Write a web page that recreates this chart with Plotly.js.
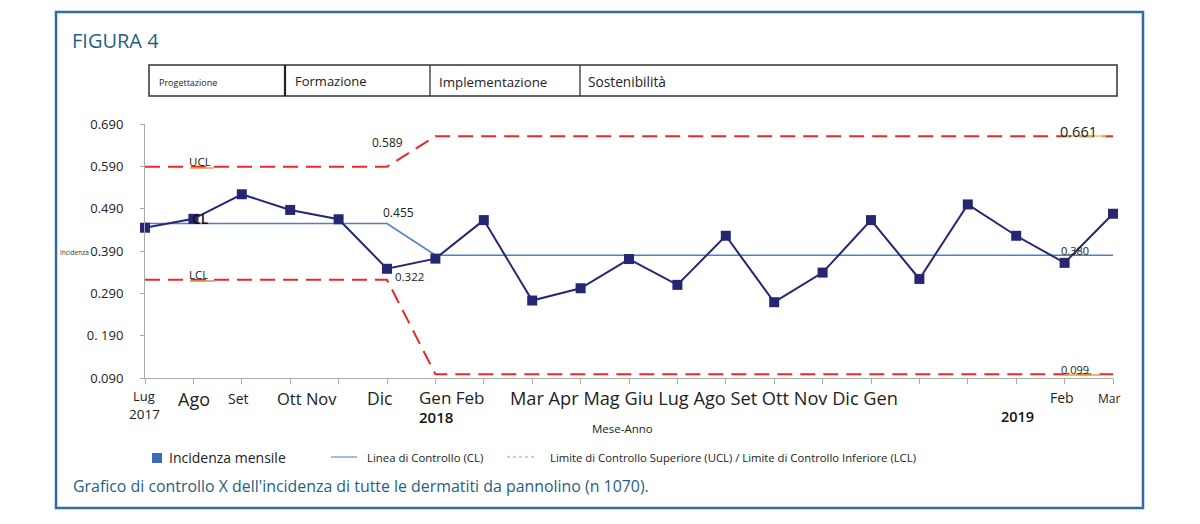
<!DOCTYPE html>
<html>
<head>
<meta charset="utf-8">
<script src="https://cdn.plot.ly/plotly-3.0.1.min.js"></script>
<style>html,body{margin:0;padding:0;background:#fff;}#chart{width:1200px;height:524px;}</style>
</head>
<body>
<div id="chart"></div>
<script>
// ---- data ----
const months = ["Lug 2017","Ago","Set","Ott","Nov","Dic","Gen 2018","Feb","Mar","Apr","Mag","Giu","Lug","Ago","Set","Ott","Nov","Dic","Gen 2019","Feb","Mar"];
const incidenza = [0.445,0.466,0.524,0.487,0.465,0.348,0.372,0.463,0.273,0.302,0.371,0.310,0.426,0.269,0.339,0.463,0.324,0.500,0.426,0.362,0.478];
const clValues  = [0.455,0.455,0.455,0.455,0.455,0.455,0.380,0.380,0.380,0.380,0.380,0.380,0.380,0.380,0.380,0.380,0.380,0.380,0.380,0.380,0.380];
const uclValues = [0.589,0.589,0.589,0.589,0.589,0.589,0.661,0.661,0.661,0.661,0.661,0.661,0.661,0.661,0.661,0.661,0.661,0.661,0.661,0.661,0.661];
const lclValues = [0.322,0.322,0.322,0.322,0.322,0.322,0.099,0.099,0.099,0.099,0.099,0.099,0.099,0.099,0.099,0.099,0.099,0.099,0.099,0.099,0.099];
const yTickVals = [0.090,0.190,0.290,0.390,0.490,0.590,0.690];
const yTickText = ["0.090","0. 190","0.290","0.390","0.490","0.590","0.690"];
const phases = ["Progettazione","Formazione","Implementazione","Sostenibilità"];
const xLabelGroups = ["Lug","Ago","Set","Ott Nov","Dic","Gen Feb","Mar Apr Mag Giu Lug Ago Set Ott Nov Dic Gen","Feb","Mar"];
const yearLabels = ["2017","2018","2019"];

// ---- layout helpers (pixel -> paper) ----
const L = 145, R = 1113, T = 124, B = 378;
const PX = x => (x - L) / (R - L);
const PY = y => (B - y) / (B - T);
const xs = months.map((_, i) => i);

const FONT = "Open Sans, Noto Sans, sans-serif";
const teal = "#1F5F85";

const traces = [
  {x: xs, y: uclValues, mode: "lines", line: {color: "#E8282B", width: 2, dash: "15px,8px"}, hoverinfo: "skip", cliponaxis: false},
  {x: xs, y: lclValues, mode: "lines", line: {color: "#E8282B", width: 2, dash: "15px,8px"}, hoverinfo: "skip", cliponaxis: false},
  {x: xs, y: clValues, mode: "lines", line: {color: "#4F7FC6", width: 1.6}, hoverinfo: "skip", cliponaxis: false},
  {x: xs, y: incidenza, mode: "lines+markers", line: {color: "#262673", width: 2},
   marker: {symbol: "square", size: 10, color: "#262673"}, cliponaxis: false, text: months}
];

function ann(text, x, y, size, opts) {
  return Object.assign({text: text, x: PX(x), y: PY(y), xref: "paper", yref: "paper",
    xanchor: "center", yanchor: "middle", showarrow: false, borderpad: 0,
    font: {family: FONT, size: size, color: "#222"}}, opts || {});
}

const annotations = [
  ann("FIGURA 4", 71, 41, 20, {xanchor: "left", font: {family: FONT, size: 20, color: teal}}),
  // phases
  ann(phases[0], 158, 82, 9, {xanchor: "left"}),
  ann(phases[1], 294, 81, 13, {xanchor: "left"}),
  ann(phases[2], 438, 82, 13.3, {xanchor: "left"}),
  ann(phases[3], 587, 81, 13.7, {xanchor: "left"}),
  // y title
  ann("Incidenza", 59, 252, 6.5, {xanchor: "left", font: {family: FONT, size: 6.5, color: "#333"}}),
  // x labels
  ann(xLabelGroups[0], 144, 396, 13),
  ann(yearLabels[0], 144, 414, 13.5),
  ann(xLabelGroups[1], 194, 399, 18),
  ann(xLabelGroups[2], 238, 398, 14),
  ann(xLabelGroups[3], 307, 398, 16.5),
  ann(xLabelGroups[4], 380, 398, 17.5),
  ann(xLabelGroups[5], 418, 397, 17, {xanchor: "left"}),
  ann(yearLabels[1], 418, 417, 15, {xanchor: "left", font: {family: FONT, size: 15, color: "#111", weight: 600}}),
  ann(xLabelGroups[6], 509, 398, 18.2, {xanchor: "left"}),
  ann(yearLabels[2], 1017, 416, 14.5, {font: {family: FONT, size: 14.5, color: "#111", weight: 600}}),
  ann(xLabelGroups[7], 1062, 397, 14),
  ann(xLabelGroups[8], 1109, 398, 12),
  ann("Mese-Anno", 622, 428, 11.5),
  // value labels
  ann("UCL", 200, 161, 11.5),
  ann("CL", 200, 218, 14, {font: {family: FONT, size: 14, color: "#111", weight: 600}}),
  ann("LCL", 198, 274, 11.5),
  ann("0.589", 387, 142, 12),
  ann("0.455", 398, 212, 12),
  ann("0.322", 409, 276, 11.5),
  ann("0.661", 1059, 131, 14.5, {xanchor: "left"}),
  ann("0.380", 1060, 250, 11, {xanchor: "left"}),
  ann("0.099", 1060, 369, 11, {xanchor: "left"}),
  // legend
  ann("Incidenza mensile", 168, 458, 14, {xanchor: "left"}),
  ann("Linea di Controllo (CL)", 366, 458, 11.4, {xanchor: "left"}),
  ann("Limite di Controllo Superiore (UCL) / Limite di Controllo Inferiore (LCL)", 549, 458, 11.3, {xanchor: "left"}),
  // caption
  ann("Grafico di controllo X dell'incidenza di tutte le dermatiti da pannolino (n 1070).", 72, 486, 15.9, {xanchor: "left", font: {family: FONT, size: 15.9, color: teal}})
];

function rect(x0, y0, x1, y1, line, fill) {
  return {type: "rect", xref: "paper", yref: "paper", x0: PX(x0), x1: PX(x1), y0: PY(y0), y1: PY(y1),
    line: line, fillcolor: fill || "rgba(0,0,0,0)", layer: "above"};
}
function seg(x0, y0, x1, y1, line) {
  return {type: "line", xref: "paper", yref: "paper", x0: PX(x0), x1: PX(x1), y0: PY(y0), y1: PY(y1), line: line, layer: "above"};
}

const shapes = [
  rect(56, 12, 1143, 508, {color: "#2E6BAE", width: 2.5}),
  rect(149, 65, 1117, 96, {color: "#333", width: 1.5}),
  seg(285, 65, 285, 96, {color: "#222", width: 2.2}),
  seg(430, 65, 430, 96, {color: "#333", width: 1.3}),
  seg(580, 65, 580, 96, {color: "#333", width: 1.3}),
  // small label underline marks
  seg(190, 168, 214, 168, {color: "#E0A040", width: 1.5}),
  seg(190, 281, 214, 281, {color: "#D89040", width: 1.5}),
  seg(1063, 136, 1106, 136, {color: "#E8C860", width: 1.5}),
  seg(1063, 375, 1100, 375, {color: "#E8A030", width: 1.5}),
  // legend samples
  rect(152, 453, 162, 463, {color: "#3A6BB8", width: 0}, "#3A6BB8"),
  seg(331, 457, 357, 457, {color: "#6F8FCC", width: 1.2}),
  seg(507, 457, 537, 457, {color: "#F08080", width: 1.2, dash: "3px,3px"})
];

const layout = {
  width: 1200, height: 524,
  margin: {l: L, r: 1200 - R, t: T, b: 524 - B, pad: 0},
  paper_bgcolor: "#fff", plot_bgcolor: "#fff",
  showlegend: false,
  font: {family: FONT, color: "#222"},
  xaxis: {range: [0, 20], tickvals: xs, showticklabels: false, ticks: "outside", ticklen: 5,
    tickcolor: "#AAA", showline: true, linecolor: "#AAA", linewidth: 1, showgrid: false, zeroline: false, fixedrange: true},
  yaxis: {range: [0.090, 0.690], tickvals: yTickVals, ticktext: yTickText, ticks: "outside", ticklen: 4,
    tickcolor: "#AAA", showline: true, linecolor: "#AAA", linewidth: 1, showgrid: false, zeroline: false,
    tickfont: {family: FONT, size: 13, color: "#222"}, ticklabelstandoff: 14, fixedrange: true},
  annotations: annotations,
  shapes: shapes
};

Plotly.newPlot("chart", traces, layout, {displayModeBar: false, staticPlot: true});
</script>
</body>
</html>
